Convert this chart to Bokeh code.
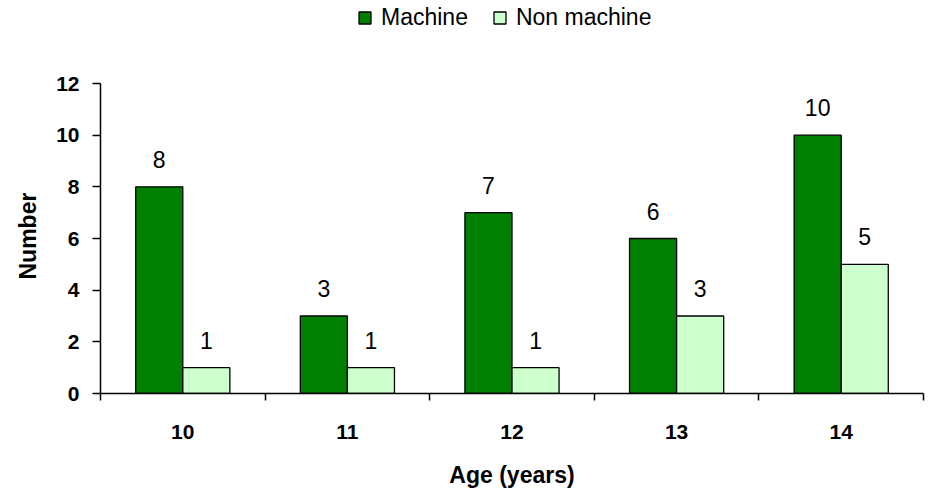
from bokeh.plotting import figure
from bokeh.models import ColumnDataSource, Range1d, FixedTicker, Legend, LegendItem, LabelSet, Title
from bokeh.core.properties import value
from bokeh.transform import dodge
from bokeh.embed import file_html
from bokeh.resources import INLINE

ages = ["10", "11", "12", "13", "14"]
machine = [8, 3, 7, 6, 10]
non_machine = [1, 1, 1, 3, 5]
y_ticks = [0, 2, 4, 6, 8, 10, 12]
y_max = 12

xpos = [i + 0.5 for i in range(len(ages))]
src = ColumnDataSource(dict(x=xpos, age=ages, m=machine, n=non_machine,
                            ml=[str(v) for v in machine], nl=[str(v) for v in non_machine]))

FONT = "Liberation Sans"
BW = 0.286
# frame reaches the top of the canvas so the legend (drawn inside the frame) is not clipped
y_end = y_max * 393 / 310

p = figure(width=931, height=493, output_backend="svg", toolbar_location=None,
           title_location=None,
           x_range=Range1d(0, len(ages)), y_range=Range1d(0, y_end),
           min_border_left=100, min_border_right=8, min_border_top=0, min_border_bottom=100)
p.outline_line_color = None
p.xgrid.grid_line_color = None
p.ygrid.grid_line_color = None
p.background_fill_color = "white"
p.border_fill_color = "white"

r1 = p.vbar(x=dodge("x", -BW / 2), top="m", width=BW, source=src,
            fill_color="#008000", line_color="black", line_width=1.3)
r2 = p.vbar(x=dodge("x", BW / 2), top="n", width=BW, source=src,
            fill_color="#CCFFCC", line_color="black", line_width=1.3)

for col, off in (("ml", -BW / 2), ("nl", BW / 2)):
    ytop = "m" if col == "ml" else "n"
    lab = LabelSet(x=dodge("x", off), y=ytop, text=col, source=src, y_offset=19,
                   text_align="center", text_baseline="alphabetic",
                   text_font=value(FONT), text_font_size="23px", text_color="black")
    p.add_layout(lab)

# x axis
xa = p.xaxis[0]
xa.ticker = FixedTicker(ticks=xpos, minor_ticks=list(range(len(ages) + 1)))
xa.major_label_overrides = {x: a for x, a in zip(xpos, ages)}
xa.major_tick_out = 0
xa.major_tick_in = 0
xa.minor_tick_out = 7
xa.minor_tick_in = 0
xa.minor_tick_line_color = "black"
xa.minor_tick_line_width = 1.5
xa.axis_line_color = "black"
xa.axis_line_width = 1.5
xa.major_label_standoff = 24
xa.major_label_text_font = FONT
xa.major_label_text_font_style = "bold"
xa.major_label_text_font_size = "21px"
xa.major_label_text_color = "black"
xa.axis_label = "Age (years)"
xa.axis_label_text_font = FONT
xa.axis_label_text_font_style = "bold"
xa.axis_label_text_font_size = "23px"
xa.axis_label_text_color = "black"
xa.axis_label_standoff = 20

ya = p.yaxis[0]
ya.ticker = FixedTicker(ticks=y_ticks, minor_ticks=[])
ya.bounds = (0, y_max)
ya.major_tick_out = 8
ya.major_tick_in = 0
ya.major_tick_line_color = "black"
ya.major_tick_line_width = 1.5
ya.axis_line_color = "black"
ya.axis_line_width = 1.5
ya.major_label_standoff = 13
ya.major_label_text_font = FONT
ya.major_label_text_font_style = "bold"
ya.major_label_text_font_size = "21px"
ya.major_label_text_color = "black"

# y-axis title, centred on the 0..12 span rather than the whole frame
ytitle = Title(text="Number", align="left", vertical_align="top", offset=114, standoff=22,
               text_font=FONT, text_font_style="bold", text_font_size="23px",
               text_color="black")
p.add_layout(ytitle, "left")

legend = Legend(items=[LegendItem(label="Machine", renderers=[r1]),
                       LegendItem(label="Non machine", renderers=[r2])],
                orientation="horizontal", location=(257, 362),
                padding=0, margin=0, spacing=24, label_standoff=9,
                glyph_width=15, glyph_height=15, label_height=22,
                label_text_font=FONT, label_text_font_size="23px", label_text_color="black",
                border_line_color=None, background_fill_alpha=0)
p.add_layout(legend, "center")

open("out.html", "w").write(file_html(p, INLINE))
